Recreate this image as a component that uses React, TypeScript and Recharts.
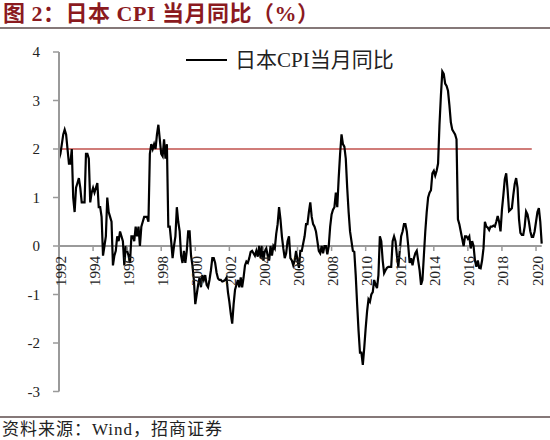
import React from 'react';
import { LineChart, Line, XAxis, YAxis, ReferenceLine } from 'recharts';

// monthly CPI yoy (%), Jan 1992 onwards
const startYear = 1992;
const cpiYoY = [
  1.8, 1.9, 2.1, 2.3, 2.4, 2.3, 2.0, 1.7, 1.7, 2.0, 1.0, 0.7, // 1992
  1.2, 1.3, 1.4, 1.2, 0.9, 0.9, 0.9, 1.9, 1.9, 1.8, 0.9, 1.1, // 1993
  1.2, 1.1, 1.2, 1.3, 0.8, 0.8, 0.6, -0.2, 0.0, 0.2, 1.0, 0.7, // 1994
  0.6, 0.5, -0.4, -0.2, -0.1, 0.2, 0.1, 0.3, 0.2, 0.1, -0.4, 0.0, // 1995
  -0.1, -0.2, -0.35, 0.2, 0.2, 0.1, 0.4, 0.2, 0.4, 0.0, 0.4, 0.5, // 1996
  0.6, 0.6, 0.6, 0.5, 1.9, 2.1, 2.0, 2.1, 2.0, 2.3, 2.5, 2.2, // 1997
  1.9, 1.85, 2.2, 1.8, 2.1, 0.4, 0.4, 0.1, -0.25, 0.0, 0.2, 0.8, // 1998
  0.5, 0.3, -0.2, -0.35, -0.1, -0.35, -0.1, 0.3, 0.3, -0.2, -0.4, -0.7, // 1999
  -1.2, -1.0, -0.8, -0.65, -0.85, -0.6, -0.7, -0.6, -0.8, -0.85, -0.7, -0.5, // 2000
  -0.25, -0.25, -0.35, -0.55, -0.67, -0.7, -0.7, -0.73, -0.72, -0.7, -0.65, -0.95, // 2001
  -1.15, -1.4, -1.6, -1.2, -0.9, -0.8, -0.7, -0.85, -0.65, -0.85, -0.65, -0.4, // 2002
  -0.32, -0.35, -0.25, -0.12, -0.1, -0.15, -0.2, -0.1, -0.22, 0.0, -0.25, 0.0, // 2003
  -0.3, -0.1, -0.05, -0.2, -0.3, 0.0, -0.2, 0.0, -0.05, 0.25, 0.45, 0.8, // 2004
  0.55, 0.2, -0.05, -0.25, -0.15, 0.1, 0.2, -0.25, -0.3, -0.4, -0.3, -0.1, // 2005
  -0.3, -0.45, -0.1, -0.1, 0.05, 0.2, 0.45, 0.45, 0.7, 0.9, 0.6, 0.45, // 2006
  0.4, 0.3, 0.1, -0.1, -0.15, 0.0, -0.15, 0.0, 0.0, -0.17, 0.0, 0.4, // 2007
  0.65, 0.75, 0.8, 1.1, 0.8, 1.4, 1.9, 2.3, 2.1, 2.05, 1.8, 1.2, // 2008
  0.7, 0.3, 0.1, -0.1, -0.12, -0.6, -1.2, -1.75, -2.2, -2.2, -2.45, -2.1, // 2009
  -1.7, -1.35, -1.1, -1.15, -1.0, -0.95, -0.7, -0.8, -0.87, -0.6, 0.2, 0.1, // 2010
  -0.3, -0.56, -0.5, -0.45, -0.43, -0.43, -0.43, 0.1, 0.2, 0.1, -0.2, -0.43, // 2011
  -0.1, 0.2, 0.3, 0.45, 0.45, 0.3, 0.0, -0.35, -0.25, -0.4, -0.25, -0.15, // 2012
  -0.1, -0.3, -0.5, -0.8, -0.7, -0.2, 0.3, 0.7, 1.0, 1.1, 1.15, 1.5, // 2013
  1.55, 1.45, 1.55, 1.7, 2.5, 3.1, 3.6, 3.55, 3.35, 3.3, 3.2, 2.9, // 2014
  2.55, 2.4, 2.35, 2.3, 2.2, 0.55, 0.45, 0.3, 0.15, 0.0, 0.2, 0.2, // 2015
  0.15, 0.2, -0.05, 0.1, 0.0, -0.3, -0.43, -0.3, -0.45, -0.46, -0.3, -0.05, // 2016
  0.5, 0.4, 0.38, 0.33, 0.4, 0.4, 0.42, 0.4, 0.5, 0.62, 0.5, 0.3, // 2017
  0.75, 1.05, 1.38, 1.5, 1.15, 0.72, 0.75, 0.78, 1.05, 1.28, 1.4, 1.2, // 2018
  0.56, 0.27, 0.23, 0.23, 0.4, 0.71, 0.65, 0.5, 0.3, 0.19, 0.19, 0.3, // 2019
  0.5, 0.7, 0.78, 0.5, 0.05, // 2020
];
const yearTicks = [1992, 1994, 1996, 1998, 2000, 2002, 2004, 2006, 2008, 2010, 2012, 2014, 2016, 2018, 2020];
const valueTicks = [-3, -2, -1, 0, 1, 2, 3, 4];
const threshold = 2;
const thresholdEnd = 2019.75;
const seriesName = '日本CPI当月同比';
const title = '图 2：日本 CPI 当月同比（%）';
const source = '资料来源：Wind，招商证券';

const data = cpiYoY.map((v, i) => ({ t: startYear + i / 12, cpi: v }));
const lastT = startYear + (cpiYoY.length - 1) / 12;

const W = 550;
const H = 440;
const PLOT_TOP = 52;
const PLOT_BOTTOM = 391.5;
const Y_MIN = -3;
const Y_MAX = 4;
const Y0 = PLOT_TOP + ((PLOT_BOTTOM - PLOT_TOP) * Y_MAX) / (Y_MAX - Y_MIN);
const FONT = "'Liberation Serif', 'Noto Sans CJK SC', serif";
const AXIS = '#9a9a9a';

// year labels sit under the zero line, rotated
const YearTick = (props: any) => {
  const { x, payload } = props;
  const bx = x + 6.5;
  const by = Y0 + 10;
  return (
    <g>
      <line x1={x} x2={x} y1={Y0} y2={Y0 + 5} stroke={AXIS} strokeWidth={1.5} />
      <text
        x={bx}
        y={by}
        transform={`rotate(-90, ${bx}, ${by})`}
        textAnchor="end"
        fontSize={15}
        fontFamily={FONT}
        fill="#222"
      >
        {payload.value}
      </text>
    </g>
  );
};

const App: React.FC = () => {
  return (
    <div style={{ position: 'absolute', left: 0, top: 0, width: W, height: H, background: '#fff' }}>
      <div
        style={{
          position: 'absolute',
          left: 3,
          top: 1,
          fontSize: 22,
          lineHeight: '26px',
          fontWeight: 'bold',
          color: '#8b1a1f',
          fontFamily: FONT,
          whiteSpace: 'nowrap',
          letterSpacing: 0.5,
        }}
      >
        {title}
      </div>
      <div style={{ position: 'absolute', left: 0, top: 27, width: W, height: 2, background: '#857878' }} />

      <LineChart
        width={W}
        height={H}
        data={data}
        margin={{ top: PLOT_TOP, right: 8.3, bottom: H - PLOT_BOTTOM - 1, left: 0 }}
      >
        <XAxis
          dataKey="t"
          type="number"
          domain={[startYear, lastT]}
          ticks={yearTicks}
          height={1}
          axisLine={false}
          tickLine={false}
          tick={YearTick}
          interval={0}
        />
        <YAxis
          type="number"
          domain={[Y_MIN, Y_MAX]}
          ticks={valueTicks}
          width={59}
          axisLine={{ stroke: AXIS, strokeWidth: 2 }}
          tickLine={{ stroke: AXIS, strokeWidth: 1.5 }}
          tickSize={6}
          tickMargin={13}
          tick={{ fontSize: 15, fill: '#222', fontFamily: FONT }}
          interval={0}
        />
        <ReferenceLine y={0} stroke={AXIS} strokeWidth={2} />
        <ReferenceLine
          segment={[
            { x: startYear, y: threshold },
            { x: thresholdEnd, y: threshold },
          ]}
          stroke="#c0504d"
          strokeWidth={1.5}
        />
        <Line
          type="linear"
          dataKey="cpi"
          name={seriesName}
          stroke="#000"
          strokeWidth={2.2}
          dot={false}
          isAnimationActive={false}
        />
      </LineChart>

      {/* legend */}
      <svg style={{ position: 'absolute', left: 186, top: 45 }} width={230} height={30}>
        <line x1={0} x2={41} y1={15} y2={15} stroke="#000" strokeWidth={2.2} />
        <text x={49} y={21.5} fontSize={21} fontFamily={FONT} fill="#222">
          {seriesName}
        </text>
      </svg>

      <div style={{ position: 'absolute', left: 0, top: 416, width: W, height: 2, background: '#857878' }} />
      <div
        style={{
          position: 'absolute',
          left: 2,
          top: 420,
          fontSize: 17,
          lineHeight: '19px',
          color: '#222',
          fontFamily: FONT,
          whiteSpace: 'nowrap',
          letterSpacing: 1,
        }}
      >
        {source}
      </div>
    </div>
  );
};

export default App;
